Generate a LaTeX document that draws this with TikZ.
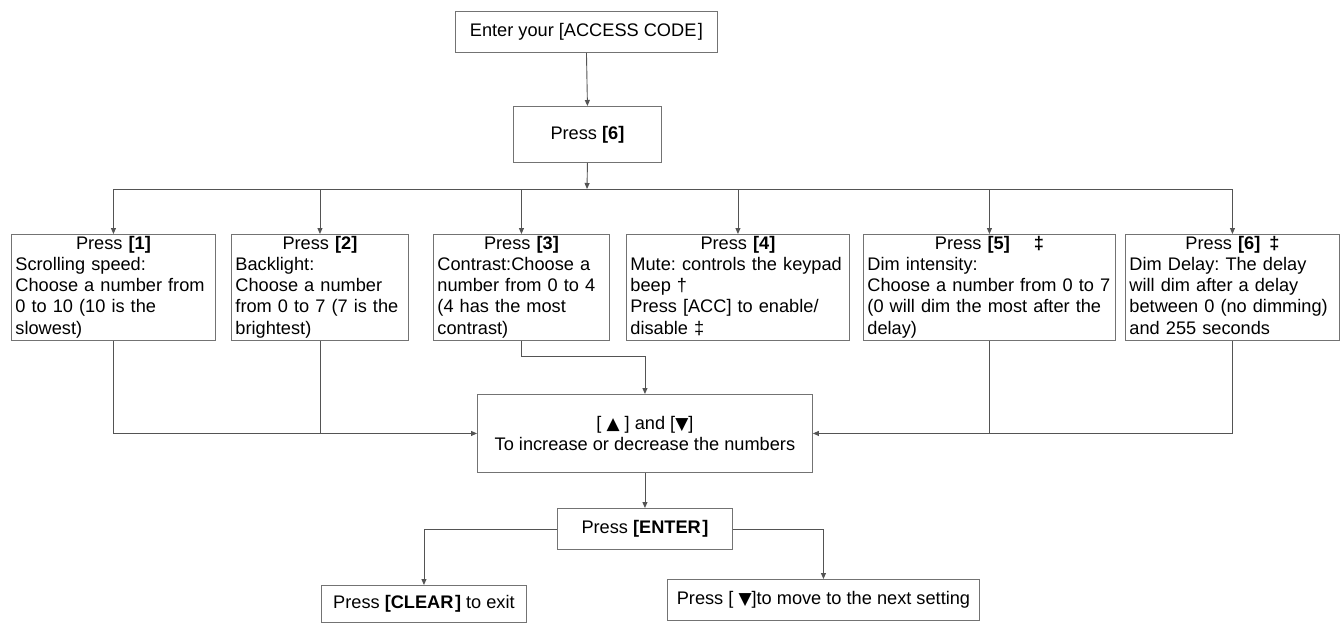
\documentclass[tikz,border=0pt]{standalone}
\usepackage{fontspec}
\setmainfont{Liberation Sans}
\newfontfamily\symf{DejaVu Sans}
\usetikzlibrary{arrows.meta}
\definecolor{linec}{gray}{0.33}
\definecolor{boxc}{gray}{0.45}
\newcommand\fs{\fontsize{18.2}{21.2}\selectfont\frenchspacing\hyphenpenalty=10000\exhyphenpenalty=10000\relax}
\newcommand\upsym{{\symf\fontsize{17}{17}\selectfont ▲}}
\newcommand\dnsym{{\symf\fontsize{17}{17}\selectfont ▼}}
\newcommand\ttl[1]{\noindent\makebox[\hsize]{\strut#1}}
\begin{document}
\begin{tikzpicture}[x=1pt,y=-1pt,
  box/.style={draw=boxc, line width=0.9pt, inner sep=0pt, anchor=north west, font=\fs},
  tbox/.style={box, minimum height=106, align=left},
  ln/.style={draw=linec, line width=0.9pt},
  arr/.style={ln, -{Triangle[length=6pt,width=5pt]}}]
\fill[white] (0,0) rectangle (1340,623);
\useasboundingbox (0,0) rectangle (1340,623);

\node[box, minimum width=262, minimum height=41] (acc) at (455,11) {Enter your [ACCESS CODE\kern1.5pt]};
\node[box, minimum width=148, minimum height=56] (p6) at (513,106) {Press \textbf{[6]}};

\node[tbox, minimum width=204, text width=196] (b1) at (11,234)
  {\ttl{Press \textbf{[1]}}\\Scrolling speed:\\Choose a number from\\0 to 10 (10 is the\\slowest)\strut};
\node[tbox, minimum width=177, text width=169] (b2) at (231,234)
  {\ttl{Press \textbf{[2]}}\\Backlight:\\Choose a number\\from 0 to 7 (7 is the\\brightest)\strut};
\node[tbox, minimum width=176, text width=168] (b3) at (433,234)
  {\ttl{Press \textbf{[3]}}\\Contrast:Choose a\\number from 0 to 4\\(4 has the most\\contrast)\strut};
\node[tbox, minimum width=223, text width=215] (b4) at (626,234)
  {\ttl{Press \textbf{[4]}}\\Mute: controls the keypad\\beep †\\Press [ACC] to enable/\\disable ‡\strut};
\node[tbox, minimum width=252, text width=244] (b5) at (863,234)
  {\ttl{Press \textbf{[5]}\hspace{24pt}\textbf{‡}}\\Dim intensity:\\Choose a number from 0 to 7\\(0 will dim the most after the\\delay)\strut};
\node[tbox, minimum width=214, text width=206] (b6) at (1125,234)
  {\ttl{Press \textbf{[6]}\hspace{9pt}\textbf{‡}}\\Dim Delay: The delay\\will dim after a delay\\between 0 (no dimming)\\and 255 seconds\strut};

\node[box, minimum width=335, minimum height=78, align=center] (mid) at (477,394)
  {[ \upsym\ ] and [\dnsym]\\To increase or decrease the numbers};
\node[box, minimum width=175, minimum height=41] (enter) at (557,508) {Press \textbf{[ENTER\kern1.5pt]}};
\node[box, minimum width=205, minimum height=37] (clear) at (321,585) {Press \textbf{[CLEAR\kern1.5pt]} to exit};
\node[box, minimum width=312, minimum height=41] (next) at (667,579) {Press [ \dnsym]to move to the next setting};

\coordinate (br) at (587,189);
\draw[arr] (acc.south) -- (p6.north);
\draw[arr] (p6.south) -- (br);
\draw[ln] (b1.north |- br) -- (b6.north |- br);
\foreach \b in {b1,b2,b3,b4,b5,b6} \draw[arr] (\b.north |- br) -- (\b.north);
\draw[arr] (b1.south) |- (mid.west);
\draw[ln] (b2.south) -- (b2.south |- mid.west);
\draw[arr] (b3.south) -- ++(0,16) -| (mid.north);
\draw[arr] (b6.south) |- (mid.east);
\draw[ln] (b5.south) -- (b5.south |- mid.east);
\draw[arr] (mid.south) -- (enter.north);
\draw[arr] (enter.west) -| (clear.north);
\draw[arr] (enter.east) -| (next.north);
\end{tikzpicture}
\end{document}
